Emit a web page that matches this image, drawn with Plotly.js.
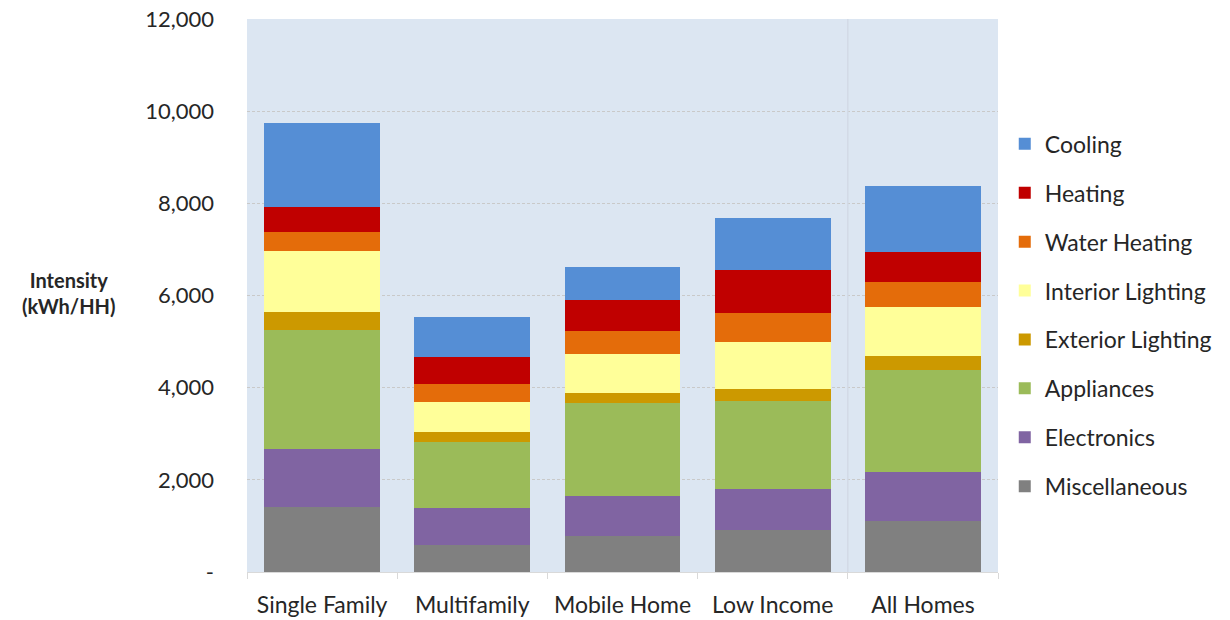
<!DOCTYPE html>
<html>
<head>
<meta charset="utf-8">
<script src="https://cdn.plot.ly/plotly-3.0.1.min.js"></script>
<style>html,body{margin:0;padding:0;background:#fff;}#chart{width:1230px;height:620px;}</style>
</head>
<body>
<div id="chart"></div>
<script>
const categories = ["Single Family", "Multifamily", "Mobile Home", "Low Income", "All Homes"];
const miscellaneous = [1400, 580, 776, 907, 1102];
const electronics = [1267, 811, 870, 884, 1072];
const appliances = [2587, 1435, 2028, 1920, 2211];
const exteriorLighting = [398, 204, 217, 261, 311];
const interiorLighting = [1305, 666, 835, 1015, 1065];
const waterHeating = [413, 384, 507, 637, 530];
const heating = [543, 594, 674, 919, 644];
const cooling = [1820, 869, 717, 1140, 1443];
const yTickVals = [0, 2000, 4000, 6000, 8000, 10000, 12000];
const yTickText = ["-", "2,000", "4,000", "6,000", "8,000", "10,000", "12,000"];

const series = [
  {name: "Miscellaneous", y: miscellaneous, color: "#808080"},
  {name: "Electronics", y: electronics, color: "#8064A2"},
  {name: "Appliances", y: appliances, color: "#9BBB59"},
  {name: "Exterior Lighting", y: exteriorLighting, color: "#CC9900"},
  {name: "Interior Lighting", y: interiorLighting, color: "#FFFF99"},
  {name: "Water Heating", y: waterHeating, color: "#E46C0A"},
  {name: "Heating", y: heating, color: "#C00000"},
  {name: "Cooling", y: cooling, color: "#558ED5"}
];

const traces = series.map((s, i) => ({
  type: "bar",
  name: s.name,
  x: categories,
  y: s.y,
  legendgroup: s.name,
  legendrank: 1000 - i,
  marker: {color: s.color, line: {width: 0}},
  hoverinfo: "name+y"
}));

const font = "Lato, 'Open Sans', sans-serif";
const textColor = "#262626";

const layout = {
  width: 1230, height: 620,
  margin: {l: 247, r: 232, t: 19, b: 48},
  paper_bgcolor: "#ffffff",
  plot_bgcolor: "#DCE6F2",
  barmode: "stack",
  bargap: 0.23,
  font: {family: font, size: 22, color: textColor},
  showlegend: true,
  legend: {
    x: 1.009, xanchor: "left", y: 0.813, yanchor: "top",
    traceorder: "grouped",
    tracegroupgap: 16,
    font: {family: font, size: 23, color: textColor},
    itemwidth: 30,
    bgcolor: "rgba(0,0,0,0)"
  },
  xaxis: {
    type: "category",
    tickson: "boundaries",
    ticks: "outside", ticklen: 6, tickcolor: "#D9D9D9", tickwidth: 1,
    showline: true, linecolor: "#D9D9D9", linewidth: 1,
    showgrid: false,
    tickangle: 0,
    ticklabelstandoff: 12,
    tickfont: {family: font, size: 23, color: textColor},
    fixedrange: true
  },
  yaxis: {
    range: [0, 12000],
    tickvals: yTickVals, ticktext: yTickText,
    showgrid: true, gridcolor: "#C9C9C9", griddash: "3px,2px", gridwidth: 1,
    zeroline: false, showline: false, ticks: "",
    ticklabelstandoff: 32,
    tickfont: {family: font, size: 22, color: textColor},
    fixedrange: true
  },
  shapes: [
    {type: "line", xref: "x", yref: "paper", x0: 3.5, x1: 3.5, y0: 0, y1: 1,
     line: {color: "#D2DAE6", width: 1.5}}
  ],
  annotations: [
    {xref: "paper", yref: "paper", x: -0.238, y: (572 - 293) / 553, xanchor: "center", yanchor: "middle",
     text: "<b>Intensity<br>(kWh/HH)</b>", showarrow: false, align: "center",
     font: {family: font, size: 20, color: textColor}}
  ]
};

Plotly.newPlot("chart", traces, layout, {displayModeBar: false, staticPlot: true});
</script>
</body>
</html>
